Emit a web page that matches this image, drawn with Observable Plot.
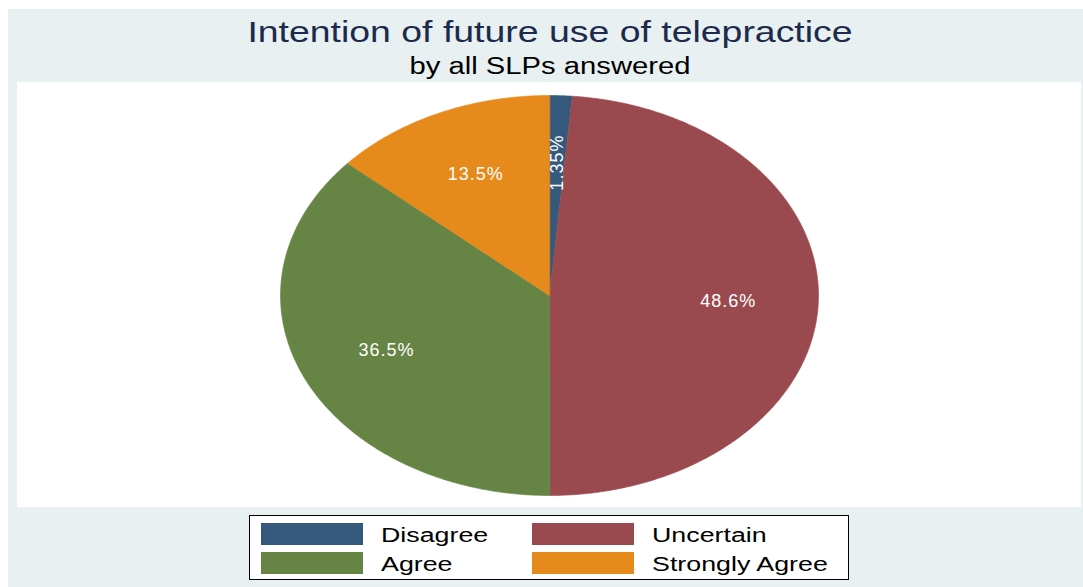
<!DOCTYPE html>
<html>
<head>
<meta charset="utf-8">
<script src="https://cdn.jsdelivr.net/npm/d3@7"></script>
<script src="https://cdn.jsdelivr.net/npm/@observablehq/plot@0.6"></script>
<style>
  html, body { margin: 0; padding: 0; background: #ffffff; }
  body { width: 1083px; height: 587px; position: relative; overflow: hidden; font-family: "Liberation Sans", Arial, sans-serif; }
  #panel { position: absolute; left: 8px; top: 9px; width: 1075px; height: 578px; background: #e8f0f2; }
  #plotbox { position: absolute; left: 17px; top: 82px; width: 1064px; height: 425px; background: #ffffff; }
  .stretch { position: absolute; white-space: nowrap; }
  #title { left: 0; width: 1100px; top: 16px; text-align: center; font-size: 29px; color: #1c2b4b; transform: scaleX(1.29); transform-origin: 550px 0; }
  #subtitle { left: 0; width: 1100px; top: 53px; text-align: center; font-size: 23px; color: #000; transform: scaleX(1.27); transform-origin: 550px 0; }
  #legend { position: absolute; left: 249px; top: 515px; width: 600px; height: 65px; background: #fff; border: 1px solid #000; box-sizing: border-box; }
  .sw { position: absolute; width: 102px; height: 22px; }
  .lt { position: absolute; font-size: 20px; color: #000; transform: scaleX(1.34); transform-origin: 0 0; line-height: 22px; }
</style>
</head>
<body>
<div id="panel"></div>
<div id="plotbox"></div>
<div id="title" class="stretch">Intention of future use of telepractice</div>
<div id="subtitle" class="stretch">by all SLPs answered</div>
<div id="legend"></div>
<script>
// ---- data ----
const categories = ["Disagree", "Uncertain", "Agree", "Strongly Agree"];
const percents = [1.35, 48.6, 36.5, 13.5];
const labels = ["1.35%", "48.6%", "36.5%", "13.5%"];
const colors = ["#34597d", "#9a4a4f", "#668443", "#e68a1b"];
const legendOrder = ["Disagree", "Uncertain", "Agree", "Strongly Agree"];

// ---- geometry from data (d3.pie, clockwise from 12 o'clock) ----
const arcs = d3.pie().sort(null).value(d => d)(percents);
const slicePts = [];
arcs.forEach((a, i) => {
  const key = categories[i];
  slicePts.push({key, x: 0, y: 0});
  const n = Math.max(4, Math.ceil((a.endAngle - a.startAngle) / 0.01));
  for (let k = 0; k <= n; k++) {
    const t = a.startAngle + (a.endAngle - a.startAngle) * k / n;
    slicePts.push({key, x: Math.sin(t), y: Math.cos(t)});
  }
});
const labelPts = arcs.map((a, i) => {
  const m = (a.startAngle + a.endAngle) / 2;
  const r = 0.665;
  return {key: categories[i], text: labels[i], x: r * Math.sin(m), y: r * Math.cos(m), rot: percents[i] < 5 ? -90 : 0};
});

const plot = Plot.plot({
  width: 1064,
  height: 425,
  marginLeft: 263,
  marginRight: 263,
  marginTop: 13,
  marginBottom: 12,
  x: {domain: [-1, 1], axis: null},
  y: {domain: [-1, 1], axis: null},
  color: {domain: categories, range: colors},
  style: {background: "transparent", fontFamily: "Liberation Sans, Arial, sans-serif"},
  marks: [
    Plot.line(slicePts, {x: "x", y: "y", z: "key", fill: "key", stroke: "key", strokeWidth: 0.6, curve: "linear-closed"}),
    Plot.text(labelPts.filter(d => d.rot === 0), {x: "x", y: "y", text: "text", fill: "white", fontSize: 18}),
    Plot.text(labelPts.filter(d => d.rot !== 0), {x: "x", y: "y", text: "text", fill: "white", fontSize: 18, rotate: -90})
  ]
});
plot.style.position = "absolute";
plot.style.left = "17px";
plot.style.top = "82px";
document.body.appendChild(plot);
d3.select(plot).selectAll("text").style("letter-spacing", "1px");

// ---- legend ----
const legend = document.getElementById("legend");
legendOrder.forEach((c, i) => {
  const col = i % 2, row = Math.floor(i / 2);
  const sw = document.createElement("div");
  sw.className = "sw";
  sw.style.left = (11 + col * 271) + "px";
  sw.style.top = (7 + row * 29) + "px";
  sw.style.background = colors[categories.indexOf(c)];
  legend.appendChild(sw);
  const t = document.createElement("div");
  t.className = "lt";
  t.textContent = c;
  t.style.left = (131 + col * 271) + "px";
  t.style.top = (8 + row * 29) + "px";
  legend.appendChild(t);
});
</script>
</body>
</html>
